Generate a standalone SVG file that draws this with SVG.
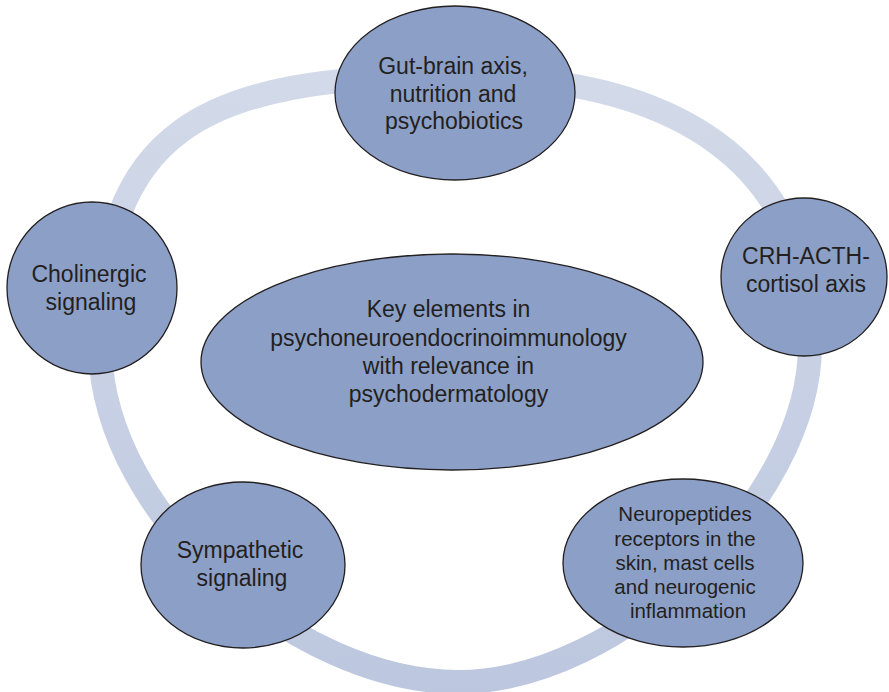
<svg xmlns="http://www.w3.org/2000/svg" width="889" height="692" viewBox="0 0 889 692">
  <defs>
    <linearGradient id="ringFade" gradientUnits="userSpaceOnUse" x1="0" y1="60" x2="0" y2="700">
      <stop offset="0" stop-color="#d3dae9"/>
      <stop offset="1" stop-color="#bcc7df"/>
    </linearGradient>
  </defs>
  <style>
    .node { fill: #8c9fc7; stroke: #231f20; stroke-width: 1.3; }
    .lbl { font-family: "Liberation Sans", Arial, Helvetica, sans-serif; fill: #231f20; text-anchor: middle; }
    .big { font-size: 23px; }
    .small { font-size: 20.5px; }
  </style>
  <rect width="889" height="692" fill="#ffffff"/>

  <!-- cycle band linking the outer elements -->
  <g id="connectors">
    <path d="M455,76 C680,76 810,165 810,345 C810,500 620,682 458,682 C300,682 105,520 100,350 C100,130 200,76 455,76 Z"
          fill="none" stroke="url(#ringFade)" stroke-width="24"/>
  </g>

  <g id="gut-brain">
    <ellipse class="node" cx="455" cy="93" rx="120" ry="87"/>
    <text class="lbl big" x="453" y="74">Gut-brain axis,</text>
    <text class="lbl big" x="453" y="101.7">nutrition and</text>
    <text class="lbl big" x="454" y="129.3">psychobiotics</text>
  </g>

  <g id="crh-acth">
    <ellipse class="node" cx="804" cy="277" rx="83" ry="79"/>
    <text class="lbl big" x="806" y="264">CRH-ACTH-</text>
    <text class="lbl big" x="806" y="291.7">cortisol axis</text>
  </g>

  <g id="cholinergic">
    <ellipse class="node" cx="92" cy="288" rx="85" ry="86"/>
    <text class="lbl big" x="89" y="282">Cholinergic</text>
    <text class="lbl big" x="91" y="310">signaling</text>
  </g>

  <g id="center">
    <ellipse class="node" cx="452" cy="362" rx="251" ry="108"/>
    <text class="lbl big" x="448.5" y="317.3">Key elements in</text>
    <text class="lbl big" x="448.5" y="345.5">psychoneuroendocrinoimmunology</text>
    <text class="lbl big" x="448.5" y="373.5">with relevance in</text>
    <text class="lbl big" x="448.5" y="401.5">psychodermatology</text>
  </g>

  <g id="sympathetic">
    <ellipse class="node" cx="243" cy="565" rx="102" ry="83"/>
    <text class="lbl big" x="240" y="558.3">Sympathetic</text>
    <text class="lbl big" x="242" y="586">signaling</text>
  </g>

  <g id="neuropeptides">
    <ellipse class="node" cx="683" cy="563" rx="120" ry="84"/>
    <text class="lbl small" x="685" y="521">Neuropeptides</text>
    <text class="lbl small" x="685" y="545.5">receptors in the</text>
    <text class="lbl small" x="685" y="570">skin, mast cells</text>
    <text class="lbl small" x="685" y="594">and neurogenic</text>
    <text class="lbl small" x="688" y="618">inflammation</text>
  </g>
</svg>
